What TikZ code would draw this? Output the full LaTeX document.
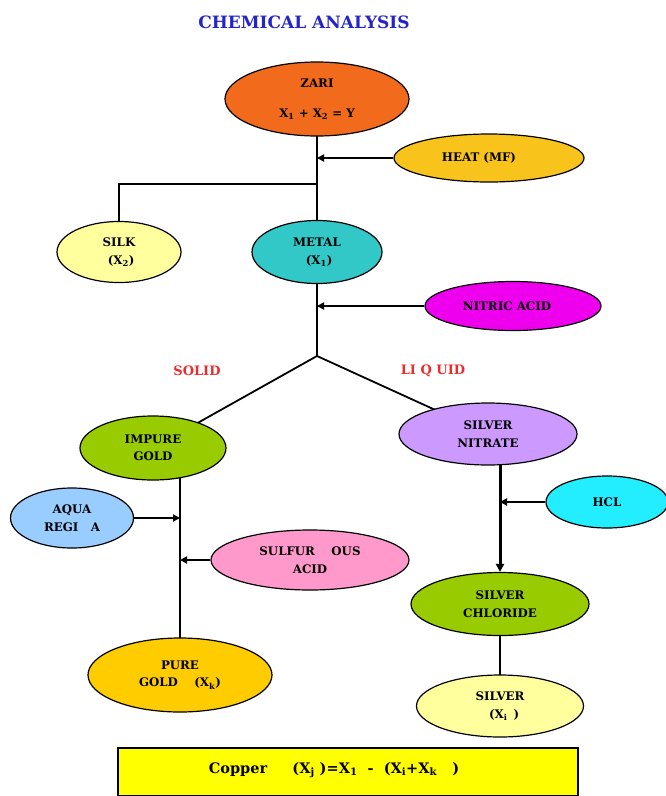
\documentclass[tikz,border=0pt]{standalone}
\usepackage{fontspec}
\setmainfont{DejaVu Serif}
\usetikzlibrary{shapes.geometric,arrows.meta,backgrounds}
\definecolor{czari}{HTML}{F26A1B}
\definecolor{cheat}{HTML}{F8C41C}
\definecolor{csilk}{HTML}{FFFF9E}
\definecolor{cmetal}{HTML}{33C8C8}
\definecolor{cnitric}{HTML}{EE00EE}
\definecolor{cgreen}{HTML}{99CC00}
\definecolor{cnitrate}{HTML}{CC99FF}
\definecolor{caqua}{HTML}{99CCFF}
\definecolor{csulf}{HTML}{FF99CC}
\definecolor{cpure}{HTML}{FFCC00}
\definecolor{chcl}{HTML}{22EEFF}
\definecolor{cbox}{HTML}{FFFF00}
\definecolor{ctitle}{HTML}{2424CC}
\definecolor{cred}{HTML}{EE2B2B}
\begin{document}
\begin{tikzpicture}[x=1pt,y=-1pt,
  ell/.style={ellipse,draw=black,line width=1.2pt,inner sep=0pt,align=center,
    font=\fontsize{11.8}{17.5}\selectfont\bfseries},
  conn/.style={line width=1.8pt},
  arr/.style={line width=2.6pt,-{Triangle[length=7pt,width=7pt]}},
  lbl/.style={text=cred,font=\fontsize{13}{15}\selectfont\bfseries}]
\useasboundingbox (0,0) rectangle (665,796);

\node[text=ctitle,font=\fontsize{17}{20}\selectfont\bfseries] (title) at (304,22) {CHEMICAL ANALYSIS};

\node[ell,fill=czari,minimum width=184pt,minimum height=74pt] (zari) at (317,99) {ZARI\\[12pt]X\textsubscript{1} + X\textsubscript{2} = Y};
\node[ell,fill=cheat,minimum width=190pt,minimum height=48pt] (heat) at (489,158) {HEAT (MF)\hspace*{20pt}};
\node[ell,fill=csilk,minimum width=124pt,minimum height=61pt] (silk) at (119,252) {SILK\\[0pt]\ (X\textsubscript{2})};
\node[ell,fill=cmetal,minimum width=130pt,minimum height=63pt] (metal) at (317,252) {METAL\\[0pt]\ (X\textsubscript{1})};
\node[ell,fill=cnitric,minimum width=176pt,minimum height=49pt] (nitric) at (513,306) {NITRIC ACID\hspace*{12pt}};

\node[lbl] (solid) at (197,371) {SOLID};
\node[lbl] (liquid) at (433,371) {LI Q UID};

\node[ell,fill=cgreen,minimum width=146pt,minimum height=64pt] (impure) at (153,448) {IMPURE\\GOLD};
\node[ell,fill=cnitrate,minimum width=178pt,minimum height=62pt] (nitrate) at (488,434) {SILVER\\NITRATE};
\node[ell,fill=caqua,minimum width=123pt,minimum height=60pt] (aqua) at (72,518) {AQUA\\REGI\ \ \ A};
\node[ell,fill=csulf,minimum width=198pt,minimum height=60pt] (sulf) at (310,560) {SULFUR\ \ \ \ OUS\\ACID};
\node[ell,fill=cpure,minimum width=184pt,minimum height=74pt] (pure) at (180,675) {PURE\\GOLD\ \ \ \ (X\textsubscript{k})};
\node[ell,fill=chcl,minimum width=122pt,minimum height=52pt] (hcl) at (607,502) {HCL};
\node[ell,fill=cgreen,minimum width=178pt,minimum height=63pt] (chloride) at (500,604) {SILVER\\CHLORIDE};
\node[ell,fill=csilk,minimum width=167pt,minimum height=62pt] (silver) at (500,706) {SILVER\\\ \ (X\textsubscript{i}\ \,)};

\node[draw=black,line width=1.2pt,fill=cbox,minimum width=460pt,minimum height=48pt,inner sep=0pt] (box) at (348,772) {};
\node[font=\fontsize{14.5}{17}\selectfont\bfseries] (copper) at (334,770) {Copper\ \ \ \ \ (X\textsubscript{j} )=X\textsubscript{1} \ - \ (X\textsubscript{i}+X\textsubscript{k} \ \ )};

\begin{scope}[on background layer]
  \coordinate (j1) at (317,184);
  \coordinate (j2) at (317,356);
  \draw[conn] (zari.center) -- (metal.center);
  \draw[conn] (j1) -| (silk.center);
  \draw[conn] (metal.center) -- (j2);
  \draw[conn] (j2) -- (impure.center);
  \draw[conn] (j2) -- (nitrate.center);
  \draw[conn] (impure.center -| pure.center) -- (pure.center);
  \draw[line width=3pt,-{Triangle[length=8pt,width=8pt]}] (nitrate.center -| chloride.center) -- (chloride.north);
  \draw[conn] (chloride.center) -- (silver.center);
\end{scope}

\draw[arr] (heat.west) -- (heat.west -| zari.south);
\draw[arr] (nitric.west) -- (nitric.west -| metal.south);
\draw[arr] (aqua.east) -- (aqua.east -| pure.north);
\draw[arr] (sulf.west) -- (sulf.west -| pure.north);
\draw[arr] (hcl.west) -- (hcl.west -| chloride.north);
\end{tikzpicture}
\end{document}
